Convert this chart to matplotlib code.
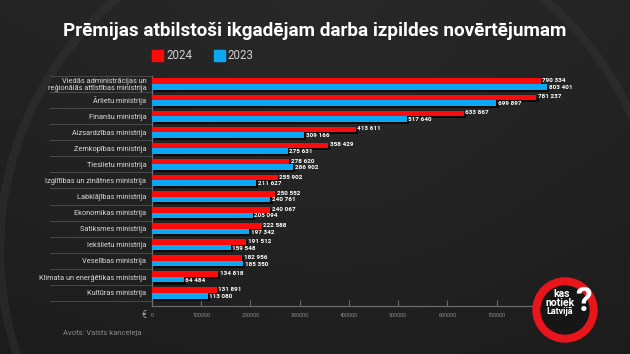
import matplotlib
matplotlib.use("Agg")
import matplotlib.pyplot as plt
import matplotlib.patheffects as pe
from matplotlib.patches import Rectangle, Circle
import matplotlib.transforms as mtransforms
import numpy as np

categories = [
    "Viedās administrācijas un\nreģionālās attīstības ministrija",
    "Ārlietu ministrija",
    "Finanšu ministrija",
    "Aizsardzības ministrija",
    "Zemkopības ministrija",
    "Tieslietu ministrija",
    "Izglītības un zinātnes ministrija",
    "Labklājības ministrija",
    "Ekonomikas ministrija",
    "Satiksmes ministrija",
    "Iekšlietu ministrija",
    "Veselības ministrija",
    "Klimata un enerģētikas ministrija",
    "Kultūras ministrija",
]
values_2024 = [790334, 781237, 633867, 413611, 358429, 278620, 255902,
               250552, 240067, 222588, 191512, 182956, 134818, 131891]
values_2023 = [803401, 699897, 517640, 309166, 275631, 286902, 211627,
               240761, 205094, 197342, 159548, 185350, 64484, 113080]
x_ticks = [0, 100000, 200000, 300000, 400000, 500000, 600000, 700000]
series_labels = ["2024", "2023"]

RED = "#ff0a0a"
BLUE = "#0aa8f2"
W, H = 630, 354
fig = plt.figure(figsize=(6.3, 3.54), dpi=100)

# background
bg = fig.add_axes([0, 0, 1, 1], zorder=-10)
yy, xx = np.mgrid[0:H, 0:W]
grad = 0.11 + 0.03 * (1 - yy / H) + 0.02 * np.exp(-((xx - 330) ** 2 + (yy - 150) ** 2) / 60000)
bg.imshow(np.dstack([grad, grad, grad]), extent=[0, W, H, 0], aspect="auto")
theta = np.linspace(0, 2 * np.pi, 400)
bg.plot(330 + 330 * np.cos(theta), 250 + 330 * np.sin(theta), color="#3a3a3a", lw=6, alpha=0.35)
bg.set_xlim(0, W); bg.set_ylim(H, 0); bg.axis("off")

def fx(px): return px / W
def fy(py): return 1 - py / H

ax_left, ax_right, ax_top, ax_bot = 152, 560, 76, 306
ax = fig.add_axes([fx(ax_left), fy(ax_bot), fx(ax_right - ax_left), (ax_bot - ax_top) / H])
ax.set_facecolor("none")
n = len(categories)
row_px = (301 - 76) / n
ax.set_ylim(n - 0.5 + 5 / row_px, -0.5)
ax.set_xlim(0, 829000)

y = np.arange(n)
h = 0.345
shadow = [pe.SimplePatchShadow(offset=(1.5, -1.5), shadow_rgbFace="black", alpha=0.7), pe.Normal()]
b1 = ax.barh(y - h / 2, values_2024, height=h, color=RED, zorder=3)
b2 = ax.barh(y + h / 2, values_2023, height=h, color=BLUE, zorder=3)
for b in list(b1) + list(b2):
    b.set_path_effects(shadow)

def fmt(v):
    return f"{v:,}".replace(",", " ")

nudge = 0.6 / row_px
for i in range(n):
    ax.text(values_2024[i] + 3000, y[i] - h / 2 - nudge, fmt(values_2024[i]), color="white",
            fontsize=4.6, fontweight="bold", va="center", ha="left", zorder=5,
            family="Roboto")
    ax.text(values_2023[i] + 3000, y[i] + h / 2 + nudge, fmt(values_2023[i]), color="white",
            fontsize=4.6, fontweight="bold", va="center", ha="left", zorder=5,
            family="Roboto")

ax.set_yticks(y)
ax.set_yticklabels(categories, fontsize=5.3, color="#d8d8d8", linespacing=0.95, family="Roboto")
ax.tick_params(axis="y", length=0, pad=4)
ax.set_xticks(x_ticks)
ax.set_xticklabels([str(t) for t in x_ticks], fontsize=4, color="#8a8a8a", family="Roboto")
ax.tick_params(axis="x", direction="in", length=4, color="#6a6a6a", pad=5, width=0.8)
for s in ["top", "right"]:
    ax.spines[s].set_visible(False)
for s in ["left", "bottom"]:
    ax.spines[s].set_color("#6a6a6a")
    ax.spines[s].set_linewidth(0.9)

# separators between category rows
trans = mtransforms.blended_transform_factory(ax.transAxes, ax.transData)
x0 = (50 - ax_left) / (ax_right - ax_left)
for k in range(n + 1):
    ax.plot([x0, 0], [k - 0.5, k - 0.5], transform=trans, color="#4a4a4a", lw=0.7, clip_on=False)

# title
fig.text(fx(315), fy(31), "Prēmijas atbilstoši ikgadējam darba izpildes novērtējumam",
         color="white", fontsize=13.6, fontweight="bold", ha="center", va="center", family="Roboto")
# legend
fig.patches.append(Rectangle((fx(152), fy(61)), fx(11), 11 / H, color=RED, transform=fig.transFigure))
fig.text(fx(166), fy(55.5), series_labels[0], color="#d0d0d0", fontsize=8.3, va="center", family="Roboto")
fig.patches.append(Rectangle((fx(214), fy(61)), fx(11), 11 / H, color=BLUE, transform=fig.transFigure))
fig.text(fx(227), fy(55.5), series_labels[1], color="#d0d0d0", fontsize=8.3, va="center", family="Roboto")

# euro and source
fig.text(fx(144), fy(315), "€", color="#9a9a9a", fontsize=7, ha="center", va="center", family="Roboto")
fig.text(fx(63), fy(333), "Avots: Valsts kanceleja", color="#8a8a8a", fontsize=5.5, va="center", family="Roboto")

# logo
lg = fig.add_axes([0, 0, 1, 1], zorder=10)
lg.set_xlim(0, W); lg.set_ylim(H, 0); lg.axis("off")
lg.add_patch(Circle((565, 310), 32, color="#e8151b"))
lg.add_patch(Circle((565, 310), 24, color="#161616"))
lg.text(562, 294, "kas", color="white", fontsize=7.5, fontweight="bold", ha="center", va="center", family="Roboto")
lg.text(560, 303, "notiek", color="white", fontsize=7.5, fontweight="bold", ha="center", va="center", family="Roboto")
lg.text(560, 312, "Latvijā", color="white", fontsize=6.5, fontweight="bold", ha="center", va="center", family="Roboto")
lg.text(584, 302, "?", color="white", fontsize=24, fontweight="bold", ha="center", va="center", family="Roboto")

fig.savefig("out.png", dpi=100, facecolor="#1c1c1c")
